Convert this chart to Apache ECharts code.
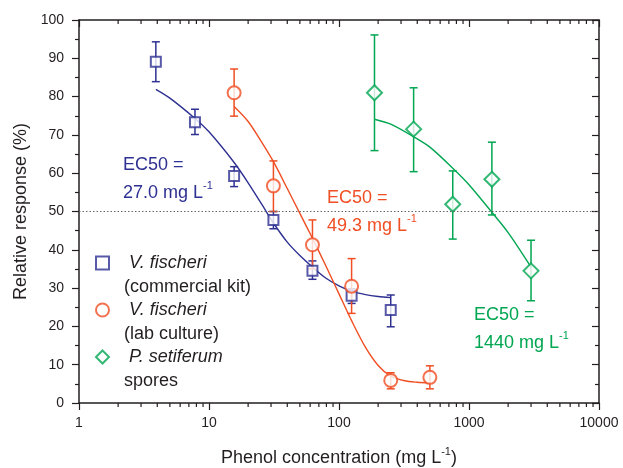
<!DOCTYPE html>
<html>
<head>
<meta charset="utf-8">
<script src="https://cdn.jsdelivr.net/npm/echarts@6/dist/echarts.min.js"></script>
<style>
html,body{margin:0;padding:0;background:#fff;}
#chart{width:623px;height:468px;}
</style>
</head>
<body>
<div id="chart"></div>
<script>
// V. fischeri, commercial kit
var kitX = [3.9, 7.8, 15.6, 31.3, 62.5, 125, 250];
var kitY = [89.1, 73.3, 59.3, 47.8, 34.5, 28.0, 24.3];
var kitLo = [83.9, 70.1, 56.5, 45.5, 32.3, 26.0, 19.9];
var kitHi = [94.3, 76.7, 61.7, 50.0, 37.1, 29.8, 28.2];
var kitFitX = [3.9, 5, 7.8, 10, 15.6, 20, 27, 31.3, 40, 50, 62.5, 80, 100, 125, 160, 200, 250];
var kitFitY = [81.9, 79.6, 74.3, 70.8, 62.8, 57.5, 50.5, 47.0, 42.0, 38.5, 35.5, 32.5, 30.6, 29.2, 28.3, 27.8, 27.5];

// V. fischeri, lab culture
var labX = [15.6, 31.3, 62.5, 125, 250, 500];
var labY = [81.0, 56.7, 41.3, 30.5, 5.9, 6.7];
var labLo = [74.9, 50.0, 35.0, 23.4, 3.7, 3.7];
var labHi = [87.2, 63.2, 47.8, 37.7, 7.9, 9.7];
var labFitX = [15.6, 20, 25, 31.3, 40, 50, 62.5, 80, 100, 125, 160, 200, 250, 320, 400, 500];
var labFitY = [77.4, 73.5, 68.5, 63.0, 56.0, 49.5, 43.0, 35.5, 28.5, 21.5, 14.5, 9.8, 7.0, 5.8, 5.4, 5.2];

// P. setiferum spores
var sporeX = [187.5, 375, 750, 1500, 3000];
var sporeY = [81.0, 71.5, 51.9, 58.4, 34.5];
var sporeLo = [65.9, 60.4, 42.8, 49.1, 26.7];
var sporeHi = [96.1, 82.3, 60.6, 68.1, 42.5];
var sporeFitX = [187.5, 250, 375, 500, 750, 1000, 1500, 2000, 3000];
var sporeFitY = [74.1, 72.8, 69.5, 66.8, 61.3, 57.0, 49.8, 44.5, 35.5];

var xMajor = [1, 10, 100, 1000, 10000];
var xMinorMult = [2, 3, 4, 5, 6, 7, 8, 9];

var BLUE = '#2e3192', RED = '#f04e23', GREEN = '#00a651', INK = '#231f20';
var FONT = 'Liberation Sans, Arial, Helvetica, sans-serif';

function zip(a, b) {
    var out = [];
    for (var i = 0; i < a.length; i++) out.push([a[i], b[i]]);
    return out;
}
function zip3(a, b, c) {
    var out = [];
    for (var i = 0; i < a.length; i++) out.push([a[i], b[i], c[i]]);
    return out;
}

// minor tick positions of the log axis (2..9 in each decade)
var minorTicks = [];
for (var d = 0; d < xMajor.length - 1; d++) {
    xMinorMult.forEach(function (m) { minorTicks.push([xMajor[d] * m, 0]); });
}

function errorBar(color) {
    return function (params, api) {
        var x = api.value(0);
        var lo = api.coord([x, api.value(1)]);
        var hi = api.coord([x, api.value(2)]);
        var w = 4;
        var st = {stroke: color, lineWidth: 1.5};
        return {
            type: 'group',
            children: [
                {type: 'line', shape: {x1: lo[0], y1: lo[1], x2: hi[0], y2: hi[1]}, style: st},
                {type: 'line', shape: {x1: lo[0] - w, y1: lo[1], x2: lo[0] + w, y2: lo[1]}, style: st},
                {type: 'line', shape: {x1: hi[0] - w, y1: hi[1], x2: hi[0] + w, y2: hi[1]}, style: st}
            ]
        };
    };
}

var chart = echarts.init(document.getElementById('chart'));

var supRich = {
    sup: {fontSize: 11, fontFamily: FONT, padding: [0, 0, 14, 0]}
};
var tickLine = {color: INK, width: 1.2};
var plainNum = function (v) { return String(v); };

var option = {
    animation: false,
    textStyle: {fontFamily: FONT},
    grid: {left: 79, right: 24, top: 20, bottom: 65, outerBoundsMode: 'none', containLabel: false},
    xAxis: [
        {
            type: 'log', logBase: 10, min: 1, max: 10000,
            name: 'Phenol concentration (mg L{sup|-1})',
            nameLocation: 'middle', nameGap: 43,
            nameTextStyle: {fontSize: 18, color: INK, fontFamily: FONT,
                rich: {sup: {fontSize: 11, fontFamily: FONT, color: INK, padding: [0, 0, 14, 0]}}},
            axisLine: {onZero: false, lineStyle: {color: INK, width: 1.5}},
            axisTick: {inside: false, length: 7, lineStyle: tickLine},
            axisLabel: {fontSize: 14, color: INK, margin: 13, formatter: plainNum},
            splitLine: {show: false}
        },
        {
            type: 'log', logBase: 10, min: 1, max: 10000, position: 'top',
            axisLine: {show: true, onZero: false, lineStyle: {color: INK, width: 1.5}},
            axisTick: {show: true, inside: true, length: 7, lineStyle: tickLine},
            axisLabel: {show: false},
            splitLine: {show: false}
        }
    ],
    yAxis: [
        {
            type: 'value', min: 0, max: 100, interval: 10,
            name: 'Relative response (%)',
            nameLocation: 'middle', nameGap: 42, nameRotate: 90,
            nameTextStyle: {fontSize: 18, color: INK, fontFamily: FONT},
            axisLine: {show: true, onZero: false, lineStyle: {color: INK, width: 1.5}},
            axisTick: {show: true, inside: false, length: 7, lineStyle: tickLine},
            minorTick: {show: true, splitNumber: 2, length: 4, lineStyle: tickLine},
            axisLabel: {fontSize: 14, color: INK, margin: 15},
            splitLine: {show: false}
        },
        {
            type: 'value', min: 0, max: 100, interval: 10, position: 'right',
            axisLine: {show: true, onZero: false, lineStyle: {color: INK, width: 1.5}},
            axisTick: {show: true, inside: true, length: 7, lineStyle: tickLine},
            minorTick: {show: true, splitNumber: 2, length: 4, lineStyle: tickLine},
            axisLabel: {show: false},
            splitLine: {show: false}
        }
    ],
    legend: {
        left: 90, top: 225, orient: 'vertical',
        itemWidth: 13, itemHeight: 13, itemGap: -19,
        data: ['kit', 'lab', 'spores'],
        formatter: function (name) {
            var second = {kit: '(commercial kit)', lab: '(lab culture)', spores: 'spores'}[name];
            var first = {kit: ' V. fischeri', lab: ' V. fischeri', spores: ' P. setiferum'}[name];
            return '{n|}\n{i|' + first + '}\n{n|' + second + '}';
        },
        textStyle: {
            color: INK, fontSize: 18, padding: [0, 0, 0, 10],
            rich: {
                i: {fontSize: 18, fontStyle: 'italic', lineHeight: 24, color: INK},
                n: {fontSize: 18, lineHeight: 24, color: INK}
            }
        }
    },
    graphic: [
        {type: 'text', left: 123, top: 151, style: {text: 'EC50 =\n27.0 mg L{sup|-1}', fill: BLUE,
            font: '18px ' + FONT, lineHeight: 28, rich: supRich}},
        {type: 'text', left: 327, top: 184, style: {text: 'EC50 =\n49.3 mg L{sup|-1}', fill: RED,
            font: '18px ' + FONT, lineHeight: 28, rich: supRich}},
        {type: 'text', left: 474, top: 301, style: {text: 'EC50 =\n1440 mg L{sup|-1}', fill: GREEN,
            font: '18px ' + FONT, lineHeight: 28, rich: supRich}}
    ],
    series: [
        {
            type: 'custom', name: 'minor', silent: true, z: 1,
            renderItem: function (params, api) {
                var b = api.coord([api.value(0), 0]);
                var t = api.coord([api.value(0), 100]);
                var st = {stroke: INK, lineWidth: 1.2};
                return {type: 'group', children: [
                    {type: 'line', shape: {x1: b[0], y1: b[1], x2: b[0], y2: b[1] + 4}, style: st},
                    {type: 'line', shape: {x1: t[0], y1: t[1], x2: t[0], y2: t[1] + 4}, style: st}
                ]};
            },
            clip: false,
            data: minorTicks
        },
        {
            type: 'line', name: 'kitFit', data: zip(kitFitX, kitFitY), smooth: 0.3,
            showSymbol: false, lineStyle: {color: BLUE, width: 1.4}, z: 2,
            markLine: {
                silent: true, symbol: 'none', label: {show: false},
                lineStyle: {color: '#666', type: [1.5, 2], width: 1},
                data: [{yAxis: 50}]
            }
        },
        {type: 'line', name: 'labFit', data: zip(labFitX, labFitY), smooth: 0.3,
            showSymbol: false, lineStyle: {color: RED, width: 1.4}, z: 2},
        {type: 'line', name: 'sporeFit', data: zip(sporeFitX, sporeFitY), smooth: 0.3,
            showSymbol: false, lineStyle: {color: GREEN, width: 1.4}, z: 2},
        {type: 'custom', name: 'kitErr', renderItem: errorBar(BLUE), data: zip3(kitX, kitLo, kitHi), z: 3},
        {type: 'custom', name: 'labErr', renderItem: errorBar(RED), data: zip3(labX, labLo, labHi), z: 3},
        {type: 'custom', name: 'sporeErr', renderItem: errorBar(GREEN), data: zip3(sporeX, sporeLo, sporeHi), z: 3},
        {type: 'scatter', name: 'kit', data: zip(kitX, kitY), symbol: 'emptyRect', symbolSize: 10,
            itemStyle: {color: BLUE, borderWidth: 1.6}, z: 4},
        {type: 'scatter', name: 'lab', data: zip(labX, labY), symbol: 'emptyCircle', symbolSize: 13,
            itemStyle: {color: RED, borderWidth: 1.6}, z: 4},
        {type: 'scatter', name: 'spores', data: zip(sporeX, sporeY), symbol: 'emptyDiamond', symbolSize: 15,
            itemStyle: {color: GREEN, borderWidth: 1.6}, z: 4}
    ]
};

chart.setOption(option);
window.addEventListener('resize', function () {
    chart.resize();
});
</script>
</body>
</html>
